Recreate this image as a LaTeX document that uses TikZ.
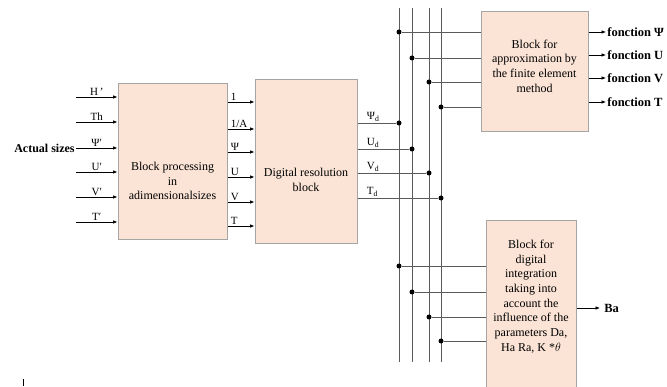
\documentclass[tikz,border=0pt]{standalone}
\usepackage{fontspec}
\setmainfont{Liberation Serif}
\usetikzlibrary{arrows.meta}
\definecolor{peach}{RGB}{251,228,214}
\definecolor{edgegray}{RGB}{165,165,165}
\definecolor{wiregray}{RGB}{90,90,90}
\tikzset{every picture/.style={line width=0.75pt}}
\tikzset{
  blockbox/.style={draw=edgegray, fill=peach, line width=1pt, inner sep=0pt},
  blocktext/.style={align=center, inner sep=0.75pt, font=\fontsize{12}{14.7}\selectfont},
  sig/.style={-{Latex[length=4.5pt,width=3.6pt]}, line width=0.7pt},
  lbl/.style={inner sep=1pt, font=\fontsize{11}{12}\selectfont},
  outlbl/.style={inner sep=1pt, font=\bfseries\fontsize{12.5}{14}\selectfont},
  dot/.style={circle, fill=black, inner sep=0pt, minimum size=5pt},
  wire/.style={draw=wiregray, line width=0.8pt}
}

\begin{document}
\begin{tikzpicture}[x=1pt,y=1pt,yscale=-1,xscale=1]
    \useasboundingbox (0,0) rectangle (667,387);

    % Blocks
    \node [blockbox, minimum width=109pt, minimum height=156pt] (proc) at (172.5,162) {};
    \node [blockbox, minimum width=102pt, minimum height=164pt] (res) at (306,162) {};
    \node [blockbox, minimum width=107pt, minimum height=120pt] (approx) at (534.5,72) {};
    \node [blockbox, minimum width=90pt, minimum height=171pt] (integ) at (531,306.5) {};

    % Text Node
    \node [blocktext] (proctxt) at (172.5,181) {Block processing\\in\\adimensionalsizes};
    \node [blocktext] (restxt) at (306,180) {Digital resolution\\block};
    \node [blocktext] (approxtxt) at (534.5,66) {Block for\\approximation by\\the finite element\\method};
    \node [blocktext] (integtxt) at (531,296.5) {Block for\\digital\\integration\\taking into\\account the\\influence of the\\parameters Da,\\Ha Ra, K *$\theta$};

    % Inputs
    \foreach \y/\t [count=\i] in {97/H\,',122/Th,148/Ψ′,172/U′,197/V′,222/T′} {
        \coordinate (in\i) at (76,\y);
        \draw [sig] (in\i) -- (in\i -| proc.west) node [midway, above, lbl] {\t};
    }
    \node [anchor=east, inner sep=1pt, font=\bfseries\fontsize{12}{14}\selectfont] (actual) at (in3) {Actual sizes};

    % Adimensional values
    \foreach \y/\t [count=\i] in {102/1,129/{1/A},152/Ψ,177/U,202/V,226/T} {
        \coordinate (mid\i) at (240,\y);
        \draw [sig] (mid\i -| proc.east) -- (mid\i -| res.west) node [pos=0, above right, lbl, xshift=2pt] {\t};
    }

    % Bus lines
    \foreach \bx/\bn in {399/a,412/b,429/c,441/d} {
        \coordinate (bus\bn top) at (\bx,8);
        \coordinate (bus\bn bot) at (\bx,362);
        \draw [wire] (bus\bn top) -- (bus\bn bot);
    }

    % Digital results onto the bus
    \foreach \bn/\y/\t in {a/123/Ψ,b/149/U,c/173/V,d/198/T} {
        \node [dot] (res\bn) at (bus\bn top |- 0,\y) {};
        \draw [wire] (res.east |- res\bn) -- (res\bn) node [pos=0, above right, lbl, xshift=8pt] {\t\textsubscript{d}};
    }

    % Taps to the approximation block
    \foreach \bn/\y in {a/32,b/58,c/82,d/107} {
        \node [dot] (tapf\bn) at (bus\bn top |- 0,\y) {};
        \draw [wire] (tapf\bn) -- (tapf\bn -| approx.west);
    }

    % Taps to the integration block
    \foreach \bn/\y in {a/266,b/292,c/317,d/341} {
        \node [dot] (tapi\bn) at (bus\bn top |- 0,\y) {};
        \draw [wire] (tapi\bn) -- (tapi\bn -| integ.west);
    }

    % Outputs
    \foreach \y/\t [count=\i] in {32/Ψ,55/U,78/V,102/T} {
        \coordinate (fout\i) at (606,\y);
        \draw [sig] (fout\i -| approx.east) -- (fout\i) node [right, outlbl] {fonction \t};
    }
    \coordinate (baout) at (600,308);
    \draw [sig] (baout -| integ.east) -- (baout) node [right, outlbl, xshift=3pt] {Ba};

    % Cursor mark
    \draw [line width=0.6pt] (23,379) -- (23,386);
\end{tikzpicture}
\end{document}
